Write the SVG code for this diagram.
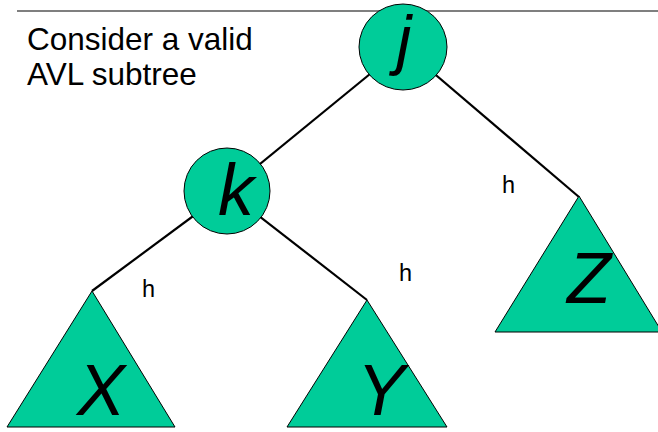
<svg xmlns="http://www.w3.org/2000/svg" width="658" height="432" viewBox="0 0 658 432">
  <style>
    .edge { stroke: #000; stroke-width: 2.2; fill: none; }
    .node { fill: #00CC99; stroke: #000; stroke-width: 1; }
    .name { font-family: "Liberation Sans", Arial, sans-serif; font-style: italic; font-size: 72px; fill: #000; text-anchor: middle; }
    .h { font-family: "Liberation Sans", Arial, sans-serif; font-size: 23.5px; fill: #000; }
    .title { font-family: "Liberation Sans", Arial, sans-serif; font-size: 31.5px; fill: #000; }
  </style>
  <rect width="658" height="432" fill="#fff"/>

  <!-- rule across the top -->
  <line x1="17" y1="11" x2="658" y2="11" stroke="#000" stroke-width="1.2"/>

  <text class="title" x="27" y="50">Consider a valid</text>
  <text class="title" x="27" y="85">AVL subtree</text>

  <!-- tree edges -->
  <g id="connectors">
    <line class="edge" x1="403" y1="47" x2="227" y2="191"/>
    <line class="edge" x1="403" y1="47" x2="579" y2="197"/>
    <line class="edge" x1="227" y1="191" x2="92" y2="291"/>
    <line class="edge" x1="227" y1="191" x2="367" y2="300"/>
  </g>

  <text class="h" x="142" y="297">h</text>
  <text class="h" x="399" y="281">h</text>
  <text class="h" x="502" y="193">h</text>

  <g id="node-j">
    <ellipse class="node" cx="403" cy="47" rx="44" ry="43"/>
    <text class="name" x="404" y="62" style="font-size:67px">j</text>
  </g>

  <g id="node-k">
    <circle class="node" cx="227" cy="191" r="43"/>
    <text class="name" x="236" y="215">k</text>
  </g>

  <g id="subtree-X">
    <polygon class="node" points="92,291 175,427 7,427"/>
    <text class="name" x="101" y="415">X</text>
  </g>

  <g id="subtree-Y">
    <polygon class="node" points="367,300 447,427 287,427"/>
    <text class="name" x="381" y="415">Y</text>
  </g>

  <g id="subtree-Z">
    <polygon class="node" points="579,196 662,332 495,332"/>
    <text class="name" x="589" y="303">Z</text>
  </g>
</svg>
